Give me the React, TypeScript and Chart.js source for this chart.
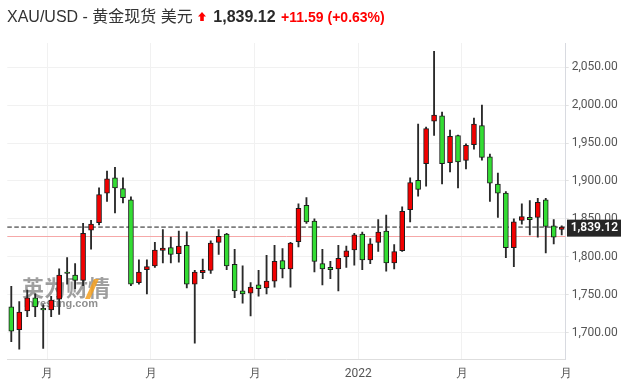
import React, { useEffect, useRef } from 'react';
import { Chart, registerables } from 'chart.js';

Chart.register(...registerables);

// Weekly OHLC candles (XAU/USD)
const opens = [
  1734, 1704, 1728.5, 1746, 1732, 1730, 1744, 1780, 1776, 1769,
  1835, 1845, 1884, 1904, 1890, 1875, 1766, 1783, 1788, 1808.4,
  1812, 1804, 1815, 1764, 1779, 1782, 1819, 1830, 1790, 1755,
  1752, 1763, 1759, 1768, 1795, 1784, 1820, 1868, 1847, 1791,
  1786, 1784, 1800, 1809, 1830, 1796, 1819, 1834, 1792, 1808,
  1862, 1901, 1923, 1979, 1986, 1924, 1960, 1927, 1948, 1973,
  1932, 1896, 1884, 1812, 1848, 1852, 1852, 1875, 1841, 1836,
];
const highs = [
  1761, 1741, 1756, 1751, 1737, 1748, 1784, 1799, 1791, 1844,
  1848, 1891, 1913, 1918, 1904, 1879, 1796, 1796, 1819, 1836,
  1826, 1834, 1833, 1782, 1797, 1821, 1836, 1831, 1810, 1788,
  1766, 1782, 1802, 1815, 1811, 1819, 1870, 1878, 1850, 1810,
  1794, 1815, 1814, 1831, 1832.5, 1824, 1849, 1855, 1816, 1866,
  1904, 1975, 1971, 2071, 1991, 1967, 1960.4, 1949, 1983, 2000,
  1935.5, 1910.5, 1886, 1850, 1870, 1874, 1877, 1877, 1849, 1841,
];
const lows = [
  1688, 1678, 1721, 1721, 1679, 1721, 1724, 1764, 1758, 1762,
  1810, 1842, 1873, 1858, 1871, 1762, 1764, 1751, 1786, 1792,
  1792, 1793, 1759, 1686, 1771, 1778, 1803, 1783, 1746, 1739,
  1722, 1748, 1751, 1760, 1772, 1760, 1813, 1844, 1780, 1763,
  1771, 1755, 1786, 1789, 1783, 1791, 1807, 1781, 1784, 1807,
  1846, 1880, 1893, 1960, 1896, 1912, 1891, 1916, 1942, 1927.5,
  1873, 1852, 1799, 1787, 1843, 1829, 1826, 1805, 1817, 1829,
];
const closes = [
  1702, 1727, 1746, 1734, 1730, 1743, 1776, 1778, 1769, 1831,
  1843, 1882, 1903, 1891, 1878, 1764, 1780, 1787, 1809, 1811.6,
  1803, 1814, 1764, 1780, 1782, 1818, 1827, 1788, 1755, 1751,
  1760, 1758, 1768, 1794, 1784, 1818, 1864, 1846, 1794, 1784,
  1783, 1798, 1808, 1829, 1796, 1817, 1832.5, 1792, 1807, 1860,
  1898, 1889, 1969, 1987, 1923, 1959, 1925, 1947, 1975, 1931,
  1897, 1884, 1812, 1846, 1853, 1849, 1872, 1840, 1826, 1839.12,
];

const xTickPositions = [4.5, 17.5, 30.5, 43.5, 56.5, 69.5];
const xTickLabels = ['月', '月', '月', '2022', '月', '月'];
const yTickValues = [1700, 1750, 1800, 1850, 1900, 1950, 2000, 2050];

const lastPrice = 1839.12;
const prevClose = 1827.53;
const changeText = '+11.59';
const changePctText = '(+0.63%)';

const UP = '#f20000';
const DOWN = '#33dd33';

const fmt = (v: number) =>
  v.toLocaleString('en-US', { minimumFractionDigits: 2, maximumFractionDigits: 2 });

const overlayPlugin = {
  id: 'overlayPlugin',
  beforeDatasetsDraw(chart: any) {
    const { ctx, chartArea: a, scales } = chart;
    const y = scales.y;
    ctx.save();
    // watermark
    ctx.textBaseline = 'middle';
    ctx.textAlign = 'left';
    ctx.fillStyle = 'rgba(100,100,100,0.62)';
    ctx.font = 'bold 22px "Noto Sans CJK SC"';
    ctx.fillText('英为财情', 22, 288);
    ctx.fillStyle = 'rgba(245,160,30,0.85)';
    ctx.beginPath();
    ctx.moveTo(85, 299);
    ctx.lineTo(90, 299);
    ctx.lineTo(99, 279);
    ctx.lineTo(94, 279);
    ctx.closePath();
    ctx.fill();
    ctx.fillStyle = 'rgba(95,95,95,0.7)';
    ctx.font = 'bold 11px "Liberation Sans", Arial';
    ctx.fillText('Investing.com', 24, 304);

    // previous close line
    const yp = y.getPixelForValue(prevClose);
    ctx.strokeStyle = '#f6a8a8';
    ctx.lineWidth = 1;
    ctx.beginPath();
    ctx.moveTo(a.left, Math.round(yp) + 0.5);
    ctx.lineTo(a.right, Math.round(yp) + 0.5);
    ctx.stroke();
    // last price dashed line
    const yl = y.getPixelForValue(lastPrice);
    ctx.strokeStyle = '#7d7d7d';
    ctx.lineWidth = 1.6;
    ctx.setLineDash([4.5, 2.5]);
    ctx.beginPath();
    ctx.moveTo(a.left, yl);
    ctx.lineTo(a.right, yl);
    ctx.stroke();
    ctx.restore();
  },
  afterDraw(chart: any) {
    const { ctx, chartArea: a, scales } = chart;
    const yl = scales.y.getPixelForValue(lastPrice);
    ctx.save();
    ctx.fillStyle = '#262626';
    ctx.fillRect(a.right + 1.3, yl - 7.5, 54, 17);
    ctx.fillStyle = '#ffffff';
    ctx.font = '600 12px Roboto';
    ctx.textBaseline = 'middle';
    ctx.textAlign = 'left';
    ctx.fillText(fmt(lastPrice), a.right + 5, yl + 1.2);
    ctx.restore();
  },
};

export default function App() {
  const ref = useRef<HTMLCanvasElement | null>(null);

  useEffect(() => {
    if (!ref.current) return;
    const bodyColors = opens.map((o, i) => (closes[i] >= o ? UP : DOWN));
    const chart = new Chart(ref.current, {
      type: 'bar',
      data: {
        datasets: [
          {
            label: 'body',
            data: opens.map((o, i) => ({ x: i, y: [o, closes[i]] })) as any,
            backgroundColor: bodyColors,
            borderColor: '#1c1c1c',
            borderWidth: 1,
            borderSkipped: false,
            barThickness: 5,
            grouped: false,
          } as any,
          {
            label: 'wick',
            data: lows.map((l, i) => ({ x: i, y: [l, highs[i]] })) as any,
            backgroundColor: '#2a2a2a',
            borderWidth: 0,
            barThickness: 1.2,
            grouped: false,
          } as any,
        ],
      },
      options: {
        animation: false,
        responsive: false,
        layout: { padding: { left: 7.3, top: 43, right: 0, bottom: 0 } },
        plugins: {
          legend: { display: false },
          tooltip: { enabled: false },
          title: { display: false },
        },
        scales: {
          x: {
            type: 'linear',
            position: 'bottom',
            min: -0.5,
            max: 69.5,
            offset: false,
            grid: { offset: false, color: '#f1f1f1', drawTicks: false },
            border: { color: '#dedede' },
            afterBuildTicks: (s: any) => {
              s.ticks = xTickPositions.map((v) => ({ value: v }));
            },
            afterFit: (s: any) => {
              s.height = 27.7;
            },
            ticks: {
              padding: 7,
              color: '#555',
              font: { family: 'Roboto', size: 12 },
              maxRotation: 0,
              autoSkip: false,
              callback: (v: any) => {
                const k = xTickPositions.indexOf(Number(v));
                return k >= 0 ? xTickLabels[k] : '';
              },
            },
          },
          y: {
            type: 'linear',
            position: 'right',
            min: 1664.8,
            max: 2082,
            beginAtZero: false,
            grid: { color: '#f1f1f1', tickLength: 3, tickColor: '#e2e2e2' },
            border: { color: '#d8dae0' },
            afterBuildTicks: (s: any) => {
              s.ticks = yTickValues.map((v) => ({ value: v }));
            },
            afterFit: (s: any) => {
              s.width = 63.3;
            },
            ticks: {
              padding: 3,
              color: '#555',
              font: { family: 'Roboto', size: 12 },
              callback: (v: any) => fmt(Number(v)),
            },
          },
        },
      } as any,
      plugins: [overlayPlugin],
    });
    return () => chart.destroy();
  }, []);

  return (
    <div style={{ position: 'absolute', left: 0, top: 0, width: 629, height: 387, background: '#fff' }}>
      <canvas ref={ref} width={629} height={387} style={{ position: 'absolute', left: 0, top: 0 }} />
      <div
        style={{
          position: 'absolute',
          left: 7,
          top: 9,
          font: '16px "Liberation Sans", Arial, "Noto Sans CJK SC", sans-serif',
          lineHeight: '16px',
          color: '#333',
          whiteSpace: 'nowrap',
        }}
      >
        XAU/USD - 黄金现货 美元
        <svg width="8" height="9" viewBox="0 0 8 9" style={{ marginLeft: 5.5, verticalAlign: '1px' }}>
          <polygon points="4,0 8,4.5 5.8,4.5 5.8,9 2.2,9 2.2,4.5 0,4.5" fill="#f00" />
        </svg>
        <span style={{ fontWeight: 'bold', marginLeft: 7, color: '#2a2a2a' }}>{fmt(lastPrice)}</span>
        <span style={{ fontWeight: 'bold', color: '#f00', fontSize: 14, marginLeft: 5.5 }}>{changeText}</span>
        <span style={{ fontWeight: 'bold', color: '#f00', fontSize: 14, marginLeft: 4 }}>{changePctText}</span>
      </div>
    </div>
  );
}
